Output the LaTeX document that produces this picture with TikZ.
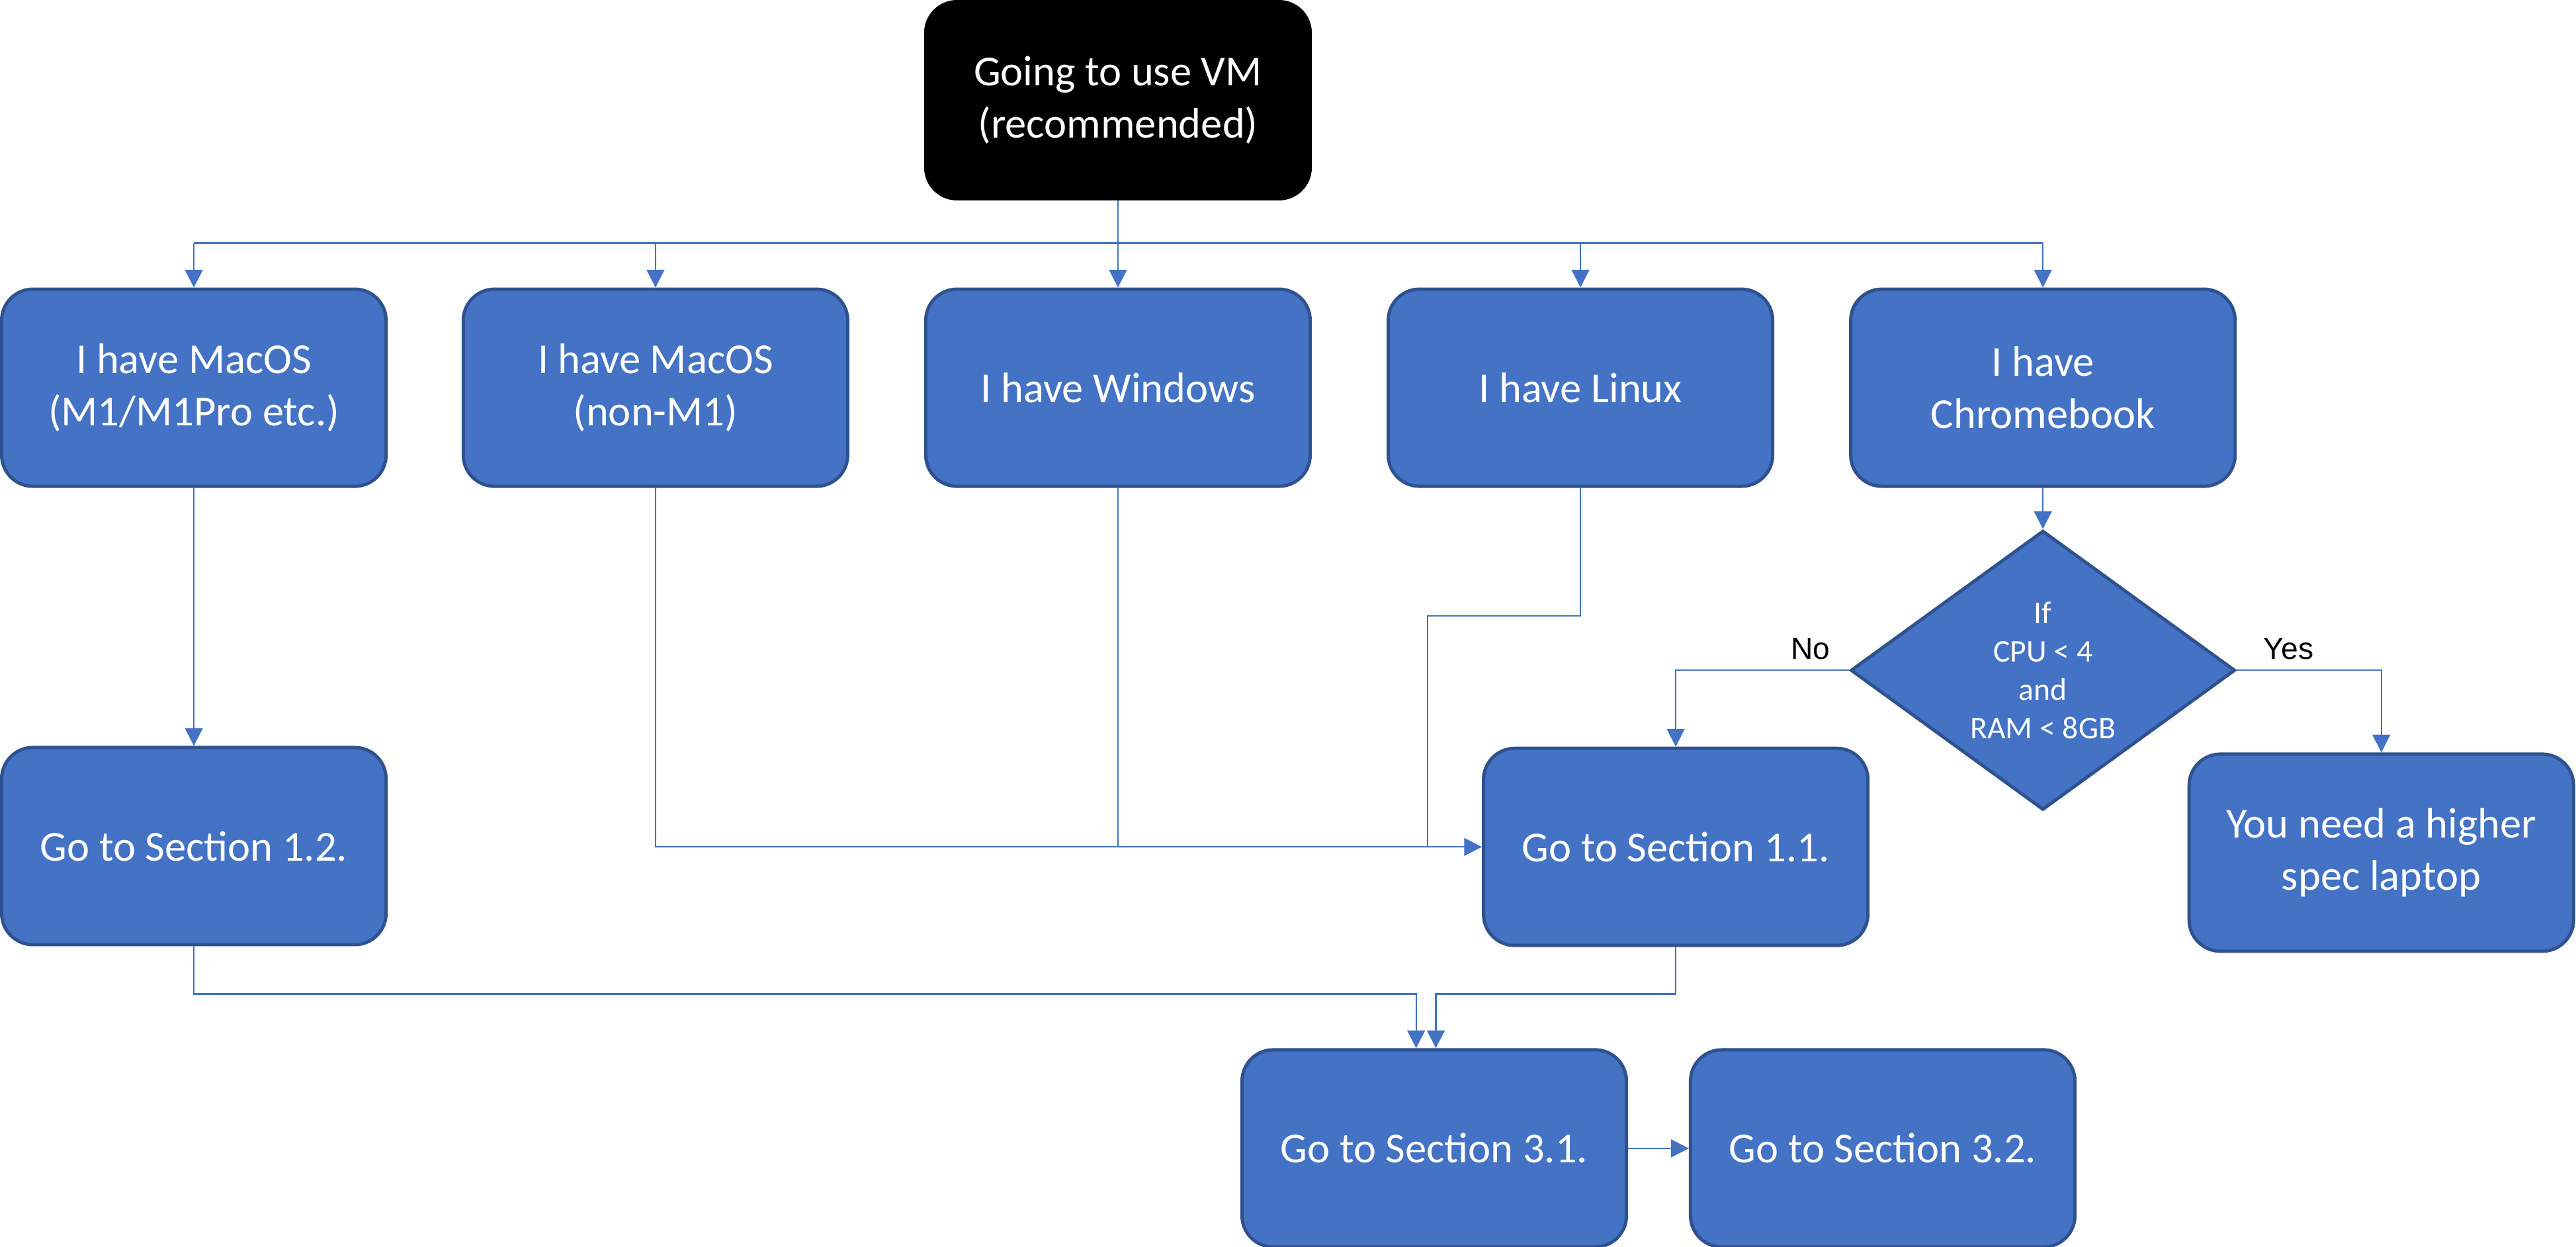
\documentclass[tikz,border=0pt]{standalone}
\usepackage{fontspec}
\setmainfont{Carlito}
\newfontfamily\arialfont{Liberation Sans}
\usetikzlibrary{arrows.meta,shapes.geometric}
\definecolor{obl}{HTML}{4472C4}
\definecolor{obd}{HTML}{2F528F}
\begin{document}
\begin{tikzpicture}[x=0.5pt,y=-0.5pt,
  box/.style={draw=obd, fill=obl, line width=1pt, rounded corners=9.5pt,
    minimum width=117pt, minimum height=60pt, inner sep=0pt, align=center,
    text=white, font=\fontsize{13}{15.9}\selectfont},
  startbox/.style={box, draw=black, fill=black},
  decision/.style={diamond, draw=obd, fill=obl, line width=1pt, aspect=1.376,
    minimum width=117pt, minimum height=85pt, inner sep=0pt, align=center,
    text=white, font=\fontsize{9.6}{11.7}\selectfont},
  conn/.style={draw=obl, line width=0.45pt},
  arr/.style={conn, -{Triangle[length=5.4pt,width=5.4pt]}},
  lbl/.style={font=\arialfont\fontsize{9.3}{11}\selectfont, text=black, inner sep=0pt}]
\useasboundingbox (0,0) rectangle (1568,759);

\node[startbox] (vm) at (680.5,61) {Going to use VM\\(recommended)};

\node[box] (m1)  at (118,236)    {I have MacOS\\(M1/M1Pro etc.)};
\node[box] (mac) at (399,236)    {I have MacOS\\(non-M1)};
\node[box] (win) at (680.5,236)  {I have Windows};
\node[box] (lin) at (962,236)    {I have Linux};
\node[box] (cb)  at (1243.5,236) {I have\\Chromebook};

\node[decision] (dia) at (1243.5,408) {If\\CPU < 4\\and\\RAM < 8GB};

\node[box] (s12) at (118,515)    {Go to Section 1.2.};
\node[box] (s11) at (1020,515.5) {Go to Section 1.1.};
\node[box] (hs)  at (1449.5,519) {You need a higher\\spec laptop};
\node[box] (s31) at (873,699)    {Go to Section 3.1.};
\node[box] (s32) at (1146,699)   {Go to Section 3.2.};

\node[lbl] (no)  at (1102,395) {No};
\node[lbl] (yes) at (1393,395) {Yes};

% bus
\coordinate (busy) at (0,148);
\draw[conn] (vm.south) -- (vm.south |- busy);
\draw[conn] (m1.north |- busy) -- (cb.north |- busy);
\foreach \n in {m1,mac,win,lin,cb}
  \draw[arr] (\n.north |- busy) -- (\n.north);

% left column
\draw[arr] (m1.south) -- (s12.north);

% to section 1.1
\coordinate (lk) at (869,375);
\draw[arr] (mac.south) |- (s11.west);
\draw[conn] (win.south) -- (win.south |- s11.west);
\draw[conn] (lin.south) |- (lk) -- (lk |- s11.west);

% decision
\draw[arr] (cb.south) -- (dia.north);
\draw[arr] (dia.west) -| (s11.north);
\draw[arr] (dia.east) -| (hs.north);

% to section 3.1
\coordinate (a1) at (862,605);
\coordinate (a2) at (874,605);
\draw[arr] (s12.south) |- (a1) -- (a1 |- s31.north);
\draw[arr] (s11.south) |- (a2) -- (a2 |- s31.north);
\draw[arr] (s31.east) -- (s32.west);
\end{tikzpicture}
\end{document}
